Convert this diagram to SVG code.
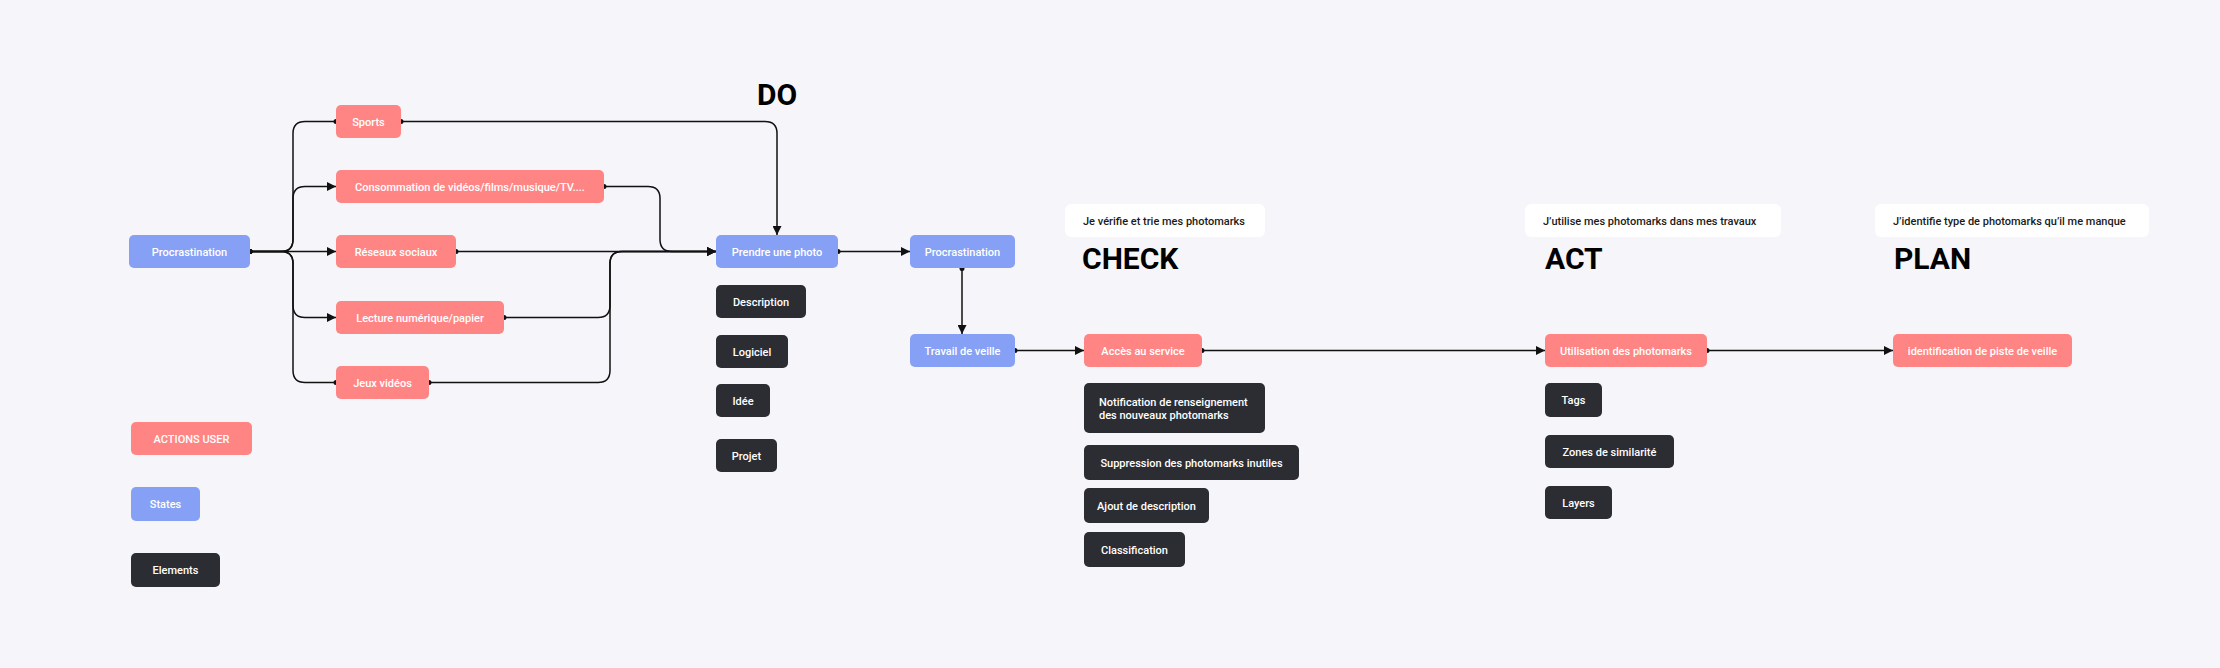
<svg xmlns="http://www.w3.org/2000/svg" width="2220" height="668" viewBox="0 0 2220 668">
<defs>
<style>
.bg{fill:#F5F5FA}
.act{fill:#FF8585}
.st{fill:#86A0F5}
.el{fill:#2C2D33}
.hd{fill:#FFFFFF}
.t{font-family:Roboto,"Liberation Sans",sans-serif;font-size:11px;font-weight:500;fill:#FFFFFF;text-anchor:middle}
.tl{font-family:Roboto,"Liberation Sans",sans-serif;font-size:11px;font-weight:500;fill:#FFFFFF}
.th{font-family:Roboto,"Liberation Sans",sans-serif;font-size:11px;font-weight:500;fill:#1A1A1A}
.big{font-family:Roboto,"Liberation Sans",sans-serif;font-size:30px;font-weight:700;fill:#000000}
.c{fill:none;stroke:#111111;stroke-width:1.5}
.a{marker-start:url(#dot);marker-end:url(#arr)}
.d{marker-start:url(#dot);marker-end:url(#dot)}
</style>
<marker id="arr" markerUnits="userSpaceOnUse" markerWidth="9" markerHeight="9" refX="9" refY="4.5" orient="auto">
<path d="M0,0 L9,4.5 L0,9 z" fill="#111111"/>
</marker>
<marker id="dot" markerUnits="userSpaceOnUse" markerWidth="6" markerHeight="6" refX="3" refY="3" orient="auto">
<circle cx="3" cy="3" r="2.5" fill="#111111"/>
</marker>
</defs>
<rect class="bg" x="0" y="0" width="2220" height="668"/>

<g id="connectors">
<path class="c d" d="M250,251.5 H281 Q293,251.5 293,239.5 V133.5 Q293,121.5 305,121.5 H336"/>
<path class="c a" d="M250,251.5 H281 Q293,251.5 293,239.5 V198.5 Q293,186.5 305,186.5 H336"/>
<path class="c a" d="M250,251.5 H336"/>
<path class="c a" d="M250,251.5 H281 Q293,251.5 293,263.5 V305.5 Q293,317.5 305,317.5 H336"/>
<path class="c d" d="M250,251.5 H281 Q293,251.5 293,263.5 V370.5 Q293,382.5 305,382.5 H336"/>
<path class="c a" d="M401,121.5 H765 Q777,121.5 777,133.5 V235"/>
<path class="c a" d="M604,186.5 H648 Q660,186.5 660,198.5 V239.5 Q660,251.5 672,251.5 H716"/>
<path class="c a" d="M456,251.5 H716"/>
<path class="c a" d="M504,317.5 H598 Q610,317.5 610,305.5 V263.5 Q610,251.5 622,251.5 H716"/>
<path class="c a" d="M429,382.5 H598 Q610,382.5 610,370.5 V263.5 Q610,251.5 622,251.5 H716"/>
<path class="c a" d="M838,251.5 H910"/>
<path class="c a" d="M962,268.5 V334"/>
<path class="c a" d="M1015,350.5 H1084"/>
<path class="c a" d="M1202,350.5 H1545"/>
<path class="c a" d="M1707,350.5 H1893"/>
</g>

<g id="procrastination"><rect class="st" x="129" y="235" width="121" height="33" rx="5"/><text class="t" x="189.5" y="255.5">Procrastination</text></g>
<g id="sports"><rect class="act" x="336" y="105" width="65" height="33" rx="5"/><text class="t" x="368.5" y="125.5">Sports</text></g>
<g id="consommation"><rect class="act" x="336" y="170" width="268" height="33" rx="5"/><text class="t" x="470" y="190.5">Consommation de vidéos/films/musique/TV....</text></g>
<g id="reseaux"><rect class="act" x="336" y="235" width="120" height="33" rx="5"/><text class="t" x="396" y="255.5">Réseaux sociaux</text></g>
<g id="lecture"><rect class="act" x="336" y="301" width="168" height="33" rx="5"/><text class="t" x="420" y="321.5">Lecture numérique/papier</text></g>
<g id="jeux"><rect class="act" x="336" y="366" width="93" height="33" rx="5"/><text class="t" x="382.5" y="386.5">Jeux vidéos</text></g>

<g id="legend-actions"><rect class="act" x="131" y="422" width="121" height="33" rx="5"/><text class="t" x="191.5" y="442.5">ACTIONS USER</text></g>
<g id="legend-states"><rect class="st" x="131" y="487" width="69" height="34" rx="5"/><text class="t" x="165.5" y="508">States</text></g>
<g id="legend-elements"><rect class="el" x="131" y="553" width="89" height="34" rx="5"/><text class="t" x="175.5" y="574">Elements</text></g>

<g id="do-title"><text class="big" x="757" y="105">DO</text></g>
<g id="prendre"><rect class="st" x="716" y="235" width="122" height="33" rx="5"/><text class="t" x="777" y="255.5">Prendre une photo</text></g>
<g id="description"><rect class="el" x="716" y="285" width="90" height="33" rx="5"/><text class="t" x="761" y="305.5">Description</text></g>
<g id="logiciel"><rect class="el" x="716" y="335" width="72" height="33" rx="5"/><text class="t" x="752" y="355.5">Logiciel</text></g>
<g id="idee"><rect class="el" x="716" y="384" width="54" height="33" rx="5"/><text class="t" x="743" y="404.5">Idée</text></g>
<g id="projet"><rect class="el" x="716" y="439" width="61" height="33" rx="5"/><text class="t" x="746.5" y="459.5">Projet</text></g>

<g id="procrastination2"><rect class="st" x="910" y="235" width="105" height="33" rx="5"/><text class="t" x="962.5" y="255.5">Procrastination</text></g>
<g id="travail"><rect class="st" x="910" y="334" width="105" height="33" rx="5"/><text class="t" x="962.5" y="354.5">Travail de veille</text></g>

<g id="check-header"><rect class="hd" x="1065" y="204" width="200" height="33" rx="6"/><text class="th" x="1083" y="224.5">Je vérifie et trie mes photomarks</text></g>
<g id="check-title"><text class="big" x="1082" y="268.5">CHECK</text></g>
<g id="acces"><rect class="act" x="1084" y="334" width="118" height="33" rx="5"/><text class="t" x="1143" y="354.5">Accès au service</text></g>
<g id="notification"><rect class="el" x="1084" y="383" width="181" height="50" rx="5"/><text class="tl" x="1099" y="405.5">Notification de renseignement</text><text class="tl" x="1099" y="419">des nouveaux photomarks</text></g>
<g id="suppression"><rect class="el" x="1084" y="445" width="215" height="35" rx="5"/><text class="t" x="1191.5" y="466.5">Suppression des photomarks inutiles</text></g>
<g id="ajout"><rect class="el" x="1084" y="488" width="125" height="35" rx="5"/><text class="t" x="1146.5" y="509.5">Ajout de description</text></g>
<g id="classification"><rect class="el" x="1084" y="532" width="101" height="35" rx="5"/><text class="t" x="1134.5" y="553.5">Classification</text></g>

<g id="act-header"><rect class="hd" x="1525" y="204" width="256" height="33" rx="6"/><text class="th" x="1543" y="224.5">J’utilise mes photomarks dans mes travaux</text></g>
<g id="act-title"><text class="big" x="1545" y="268.5">ACT</text></g>
<g id="utilisation"><rect class="act" x="1545" y="334" width="162" height="33" rx="5"/><text class="t" x="1626" y="354.5">Utilisation des photomarks</text></g>
<g id="tags"><rect class="el" x="1545" y="383" width="57" height="34" rx="5"/><text class="t" x="1573.5" y="404">Tags</text></g>
<g id="zones"><rect class="el" x="1545" y="435" width="129" height="33" rx="5"/><text class="t" x="1609.5" y="455.5">Zones de similarité</text></g>
<g id="layers"><rect class="el" x="1545" y="486" width="67" height="33" rx="5"/><text class="t" x="1578.5" y="506.5">Layers</text></g>

<g id="plan-header"><rect class="hd" x="1875" y="204" width="274" height="33" rx="6"/><text class="th" x="1893" y="224.5">J’identifie type de photomarks qu’il me manque</text></g>
<g id="plan-title"><text class="big" x="1894" y="268.5">PLAN</text></g>
<g id="identification"><rect class="act" x="1893" y="334" width="179" height="33" rx="5"/><text class="t" x="1982.5" y="354.5">identification de piste de veille</text></g>
</svg>
